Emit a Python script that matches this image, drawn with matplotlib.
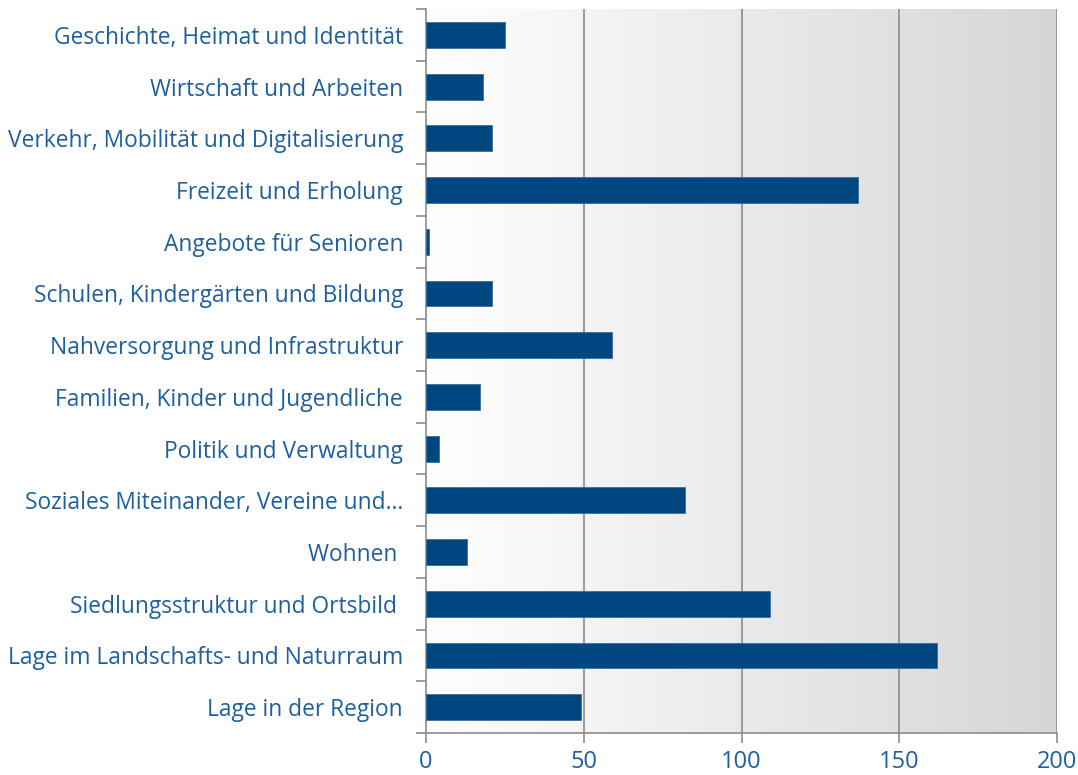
import numpy as np
import matplotlib
matplotlib.use("Agg")
import matplotlib.pyplot as plt
from matplotlib.colors import LinearSegmentedColormap

# categories top -> bottom as shown
labels = ["Geschichte, Heimat und Identität", "Wirtschaft und Arbeiten",
          "Verkehr, Mobilität und Digitalisierung", "Freizeit und Erholung",
          "Angebote für Senioren", "Schulen, Kindergärten und Bildung",
          "Nahversorgung und Infrastruktur", "Familien, Kinder und Jugendliche",
          "Politik und Verwaltung", "Soziales Miteinander, Vereine und...",
          "Wohnen ", "Siedlungsstruktur und Ortsbild ",
          "Lage im Landschafts- und Naturraum", "Lage in der Region"]
values = [25, 18, 21, 137, 1, 21, 59, 17, 4, 82, 13, 109, 162, 49]
xticks = [0, 50, 100, 150, 200]

txt_col = "#1F5F9E"
bar_col = "#00467F"
grid_col = "#8C8C8C"

plt.rcParams["font.family"] = ["Open Sans", "DejaVu Sans"]

fig = plt.figure(figsize=(10.78, 7.75), dpi=100)
ax = fig.add_axes([426/1078, 1-733/775, (1057-426)/1078, (733-9)/775])

n = len(labels)
ypos = np.arange(n)[::-1]

# horizontal gradient background
cm = LinearSegmentedColormap.from_list("bg", ["#FFFFFF", "#D6D6D6"])
grad = np.linspace(0, 1, 256).reshape(1, -1)
ax.imshow(grad, cmap=cm, aspect="auto", extent=[0, 200, -0.5, n-0.5], zorder=0)

ax.barh(ypos, values, height=0.5, color=bar_col, edgecolor="#3A6E9C", linewidth=0.6, zorder=3)

ax.set_xlim(0, 200)
ax.set_ylim(-0.5, n-0.5)
ax.set_xticks(xticks)
ax.set_xticklabels([str(t) for t in xticks], fontsize=17, color=txt_col)
for x in xticks[1:]:
    ax.axvline(x, color=grid_col, lw=1.2, zorder=1)

ax.set_yticks(ypos)
ax.set_yticklabels(labels, fontsize=16.4, color=txt_col)
ax.tick_params(axis="y", length=0, pad=16.5)
ax.set_yticks(np.arange(n+1)-0.5, minor=True)
ax.tick_params(axis="y", which="minor", length=7, color=grid_col, width=1.2)
ax.tick_params(axis="x", length=7, color=grid_col, width=1.2, pad=5)

for s in ["top", "right"]:
    ax.spines[s].set_visible(False)
ax.spines["left"].set_color(grid_col)
ax.spines["bottom"].set_color(grid_col)
ax.spines["left"].set_linewidth(1.2)
ax.spines["bottom"].set_linewidth(1.2)

fig.savefig("out.png", dpi=100)
